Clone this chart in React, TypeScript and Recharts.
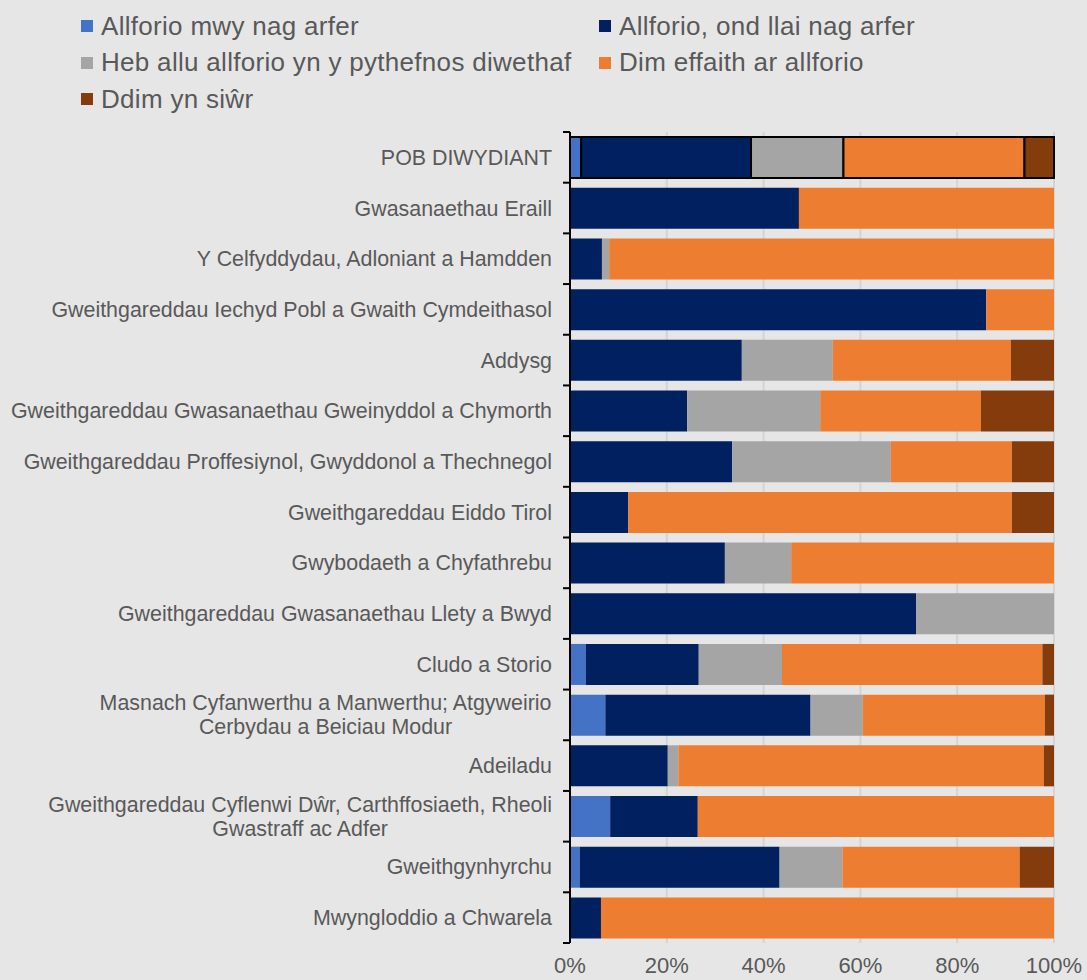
import React from 'react';
import { BarChart, Bar, XAxis, YAxis, CartesianGrid, Cell } from 'recharts';

// categories (top to bottom)
const categories = [
  'POB DIWYDIANT',
  'Gwasanaethau Eraill',
  'Y Celfyddydau, Adloniant a Hamdden',
  'Gweithgareddau Iechyd Pobl a Gwaith Cymdeithasol',
  'Addysg',
  'Gweithgareddau Gwasanaethau Gweinyddol a Chymorth',
  'Gweithgareddau Proffesiynol, Gwyddonol a Thechnegol',
  'Gweithgareddau Eiddo Tirol',
  'Gwybodaeth a Chyfathrebu',
  'Gweithgareddau Gwasanaethau Llety a Bwyd',
  'Cludo a Storio',
  'Masnach Cyfanwerthu a Manwerthu; Atgyweirio\nCerbydau a Beiciau Modur',
  'Adeiladu',
  'Gweithgareddau Cyflenwi Dŵr, Carthffosiaeth, Rheoli\nGwastraff ac Adfer',
  'Gweithgynhyrchu',
  'Mwyngloddio a Chwarela',
];

// series values (%)
const mwy = [2.3, 0, 0, 0, 0, 0, 0, 0, 0, 0, 3.3, 7.3, 0, 8.3, 2.0, 0];
const llai = [35.1, 47.3, 6.6, 86.0, 35.5, 24.2, 33.5, 12.0, 32.0, 71.5, 23.3, 42.4, 20.2, 18.1, 41.3, 6.4];
const hebAllu = [19.1, 0, 1.5, 0, 18.8, 27.5, 32.8, 0, 13.7, 28.5, 17.2, 10.8, 2.2, 0, 13.0, 0];
const dimEffaith = [37.4, 52.7, 91.9, 14.0, 36.8, 33.2, 25.0, 79.3, 54.3, 0, 53.8, 37.6, 75.5, 73.6, 36.6, 93.6];
const ddimSiwr = [6.1, 0, 0, 0, 8.9, 15.1, 8.7, 8.7, 0, 0, 2.4, 1.9, 2.1, 0, 7.1, 0];

const xTicks = [0, 20, 40, 60, 80, 100];

const series = [
  { key: 'mwy', name: 'Allforio mwy nag arfer', color: '#4472c4', values: mwy },
  { key: 'llai', name: 'Allforio, ond llai nag arfer', color: '#002060', values: llai },
  { key: 'heb', name: 'Heb allu allforio yn y pythefnos diwethaf', color: '#a5a5a5', values: hebAllu },
  { key: 'dim', name: 'Dim effaith ar allforio', color: '#ed7d31', values: dimEffaith },
  { key: 'ddim', name: 'Ddim yn siŵr', color: '#843c0c', values: ddimSiwr },
];

const data = categories.map((name, i) => {
  const row: any = { name };
  series.forEach((s) => { row[s.key] = s.values[i]; });
  return row;
});

const W = 1087;
const H = 980;
const TOP = 132;
const LEFT = 570;
const RIGHT = 33;
const XAXIS_H = 37;
const BAND = (H - TOP - XAXIS_H) / categories.length;
const TEXT = '#595959';
const FONT = 'Liberation Sans, Arial, sans-serif';
const CAT_SIZE = 21.4;

let ctx: CanvasRenderingContext2D | null = null;
const measure = (s: string) => {
  if (!ctx) ctx = document.createElement('canvas').getContext('2d');
  if (!ctx) return s.length * CAT_SIZE * 0.5;
  ctx.font = `${CAT_SIZE}px "Liberation Sans"`;
  return ctx.measureText(s).width;
};

const CatTick = (props: any) => {
  const { y, payload, index } = props;
  const lines = String(payload.value).split('\n');
  const tx = LEFT - 18;
  const lh = 24;
  const maxW = Math.max(...lines.map(measure));
  const y0 = y - ((lines.length - 1) * lh) / 2;
  return (
    <g>
      {lines.map((l, i) => (
        <text
          key={i}
          x={lines.length > 1 ? tx - maxW / 2 : tx}
          y={y0 + i * lh}
          dy="0.35em"
          textAnchor={lines.length > 1 ? 'middle' : 'end'}
          fill={TEXT}
          fontSize={CAT_SIZE}
          fontFamily={FONT}
        >
          {l}
        </text>
      ))}
      <line x1={LEFT} x2={LEFT - 7} y1={y - BAND / 2} y2={y - BAND / 2} stroke="#000" strokeWidth={2} />
      {index === categories.length - 1 && (
        <line x1={LEFT} x2={LEFT - 7} y1={y + BAND / 2} y2={y + BAND / 2} stroke="#000" strokeWidth={2} />
      )}
    </g>
  );
};

const App = () => {
  return (
    <div style={{ position: 'fixed', left: 0, top: 0, width: W, height: H, background: '#e6e6e6', overflow: 'hidden' }}>
      <div
        style={{
          position: 'absolute',
          left: 81,
          top: 8,
          width: 1000,
          display: 'grid',
          gridTemplateColumns: '518px 482px',
          fontFamily: FONT,
          fontSize: 26,
          letterSpacing: 0.3,
          color: TEXT,
        }}
      >
        {series.map((s) => (
          <div key={s.key} style={{ display: 'flex', alignItems: 'center', height: 36.5 }}>
            <span style={{ width: 12, height: 12, background: s.color, marginRight: 8, display: 'inline-block', flexShrink: 0 }} />
            <span style={{ whiteSpace: 'nowrap' }}>{s.name}</span>
          </div>
        ))}
      </div>
      <BarChart
        width={W}
        height={H}
        data={data}
        layout="vertical"
        barCategoryGap="10%"
        margin={{ top: TOP, right: RIGHT, bottom: 0, left: 0 }}
      >
        <CartesianGrid horizontal={false} stroke="#d4d4d4" strokeWidth={2} />
        <XAxis
          type="number"
          domain={[0, 100]}
          ticks={xTicks}
          tickFormatter={(v) => `${v}%`}
          axisLine={false}
          tickLine={false}
          height={XAXIS_H}
          tickMargin={8}
          tick={{ fill: TEXT, fontSize: 22, fontFamily: FONT }}
          interval={0}
        />
        <YAxis
          type="category"
          dataKey="name"
          width={LEFT}
          axisLine={{ stroke: '#000', strokeWidth: 2 }}
          tickLine={false}
          tick={<CatTick />}
          interval={0}
        />
        {series.map((s) => (
          <Bar key={s.key} dataKey={s.key} name={s.name} stackId="a" fill={s.color} isAnimationActive={false}>
            {data.map((_, i) => (
              <Cell key={i} stroke={i === 0 ? '#000' : 'none'} strokeWidth={i === 0 ? 2 : 0} />
            ))}
          </Bar>
        ))}
      </BarChart>
    </div>
  );
};

export default App;
